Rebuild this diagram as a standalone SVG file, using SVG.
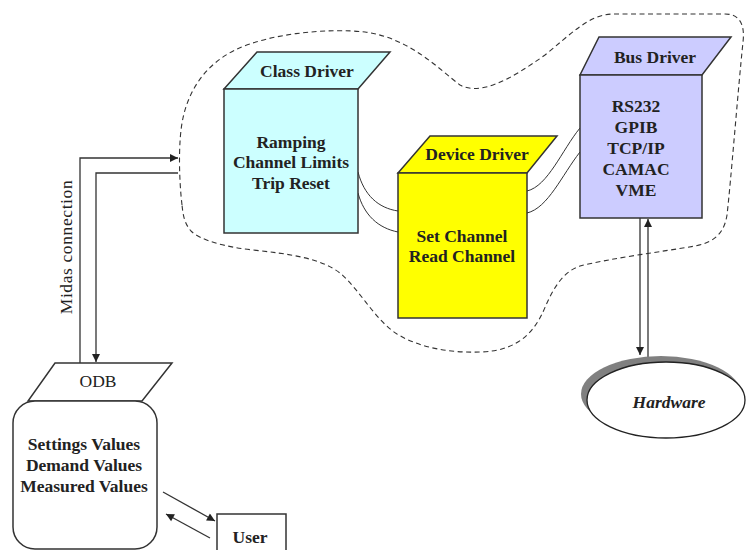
<svg xmlns="http://www.w3.org/2000/svg" width="746" height="550" viewBox="0 0 746 550">
  <defs>
    <marker id="arr" viewBox="0 0 10 10" refX="10" refY="5" markerWidth="9" markerHeight="8" markerUnits="userSpaceOnUse" orient="auto">
      <path d="M0,0 L10,5 L0,10 Z" fill="#222"/>
    </marker>
    <style>
      .edge { fill: none; stroke: #333; stroke-width: 1.3; }
      .link { fill: none; stroke: #333; stroke-width: 1; }
      .face { stroke: #333; stroke-width: 1.5; }
      .t { font-family: "Liberation Serif", "Times New Roman", serif; font-size: 17.5px; font-weight: bold; fill: #222; text-anchor: middle; }
      .r { font-weight: normal; }
    </style>
  </defs>
  <rect width="746" height="550" fill="#fff"/>

  <!-- dashed boundary around the driver layers -->
  <path d="M182,205 C179,180 178,140 183,118 C189,90 205,65 235,50 C270,33 330,28 365,32 C410,38 440,70 460,85 C480,96 510,80 545,55 C570,35 588,15 612,14 L725,14 C740,14 745,25 743,42 C738,90 731,180 727,215 C724,235 712,243 695,246 C660,252 612,258 580,266 C562,272 553,290 546,305 C536,330 520,351 480,352 C450,353 420,348 397,334 C375,320 360,290 340,273 C320,258 290,254 253,250 C225,247 200,240 191,231 C184,223 183,214 182,205 Z" fill="none" stroke="#333" stroke-width="1.1" stroke-dasharray="5,3.5"/>

  <g id="connectors">
    <!-- Midas connection between ODB and driver layers -->
    <polyline class="edge" points="80,363 80,158 178,158" marker-end="url(#arr)"/>
    <polyline class="edge" points="178,173 96,173 96,362" marker-end="url(#arr)"/>
    <!-- class driver to device driver -->
    <path class="link" d="M358,172 C364,195 378,208 398,211"/>
    <path class="link" d="M358,193 C364,215 378,228 398,232"/>
    <!-- device driver to bus driver -->
    <path class="link" d="M527,191 C548,186 562,150 580,128"/>
    <path class="link" d="M527,213 C548,208 562,175 580,152"/>
    <!-- bus driver to hardware -->
    <line class="edge" x1="640" y1="218" x2="640" y2="355" marker-end="url(#arr)"/>
    <line class="edge" x1="648" y1="357" x2="648" y2="219" marker-end="url(#arr)"/>
    <!-- ODB to user -->
    <line class="edge" x1="163" y1="492" x2="215" y2="521" marker-end="url(#arr)"/>
    <line class="edge" x1="210" y1="538" x2="166" y2="514" marker-end="url(#arr)"/>
  </g>

  <text class="t r" transform="translate(72,247) rotate(-90)" font-size="20" letter-spacing="0.6">Midas connection</text>

  <g id="class-driver">
    <polygon class="face" points="257,52 390,52 358,89 224,89" fill="#ccffff"/>
    <rect class="face" x="224" y="89" width="134" height="144" fill="#ccffff"/>
    <text class="t" x="307" y="77">Class Driver</text>
    <text class="t" x="291" y="148">Ramping</text>
    <text class="t" x="291" y="168">Channel Limits</text>
    <text class="t" x="291" y="189">Trip Reset</text>
  </g>

  <g id="device-driver">
    <polygon class="face" points="430,136 557,136 527,173 398,173" fill="#ffff00"/>
    <rect class="face" x="398" y="173" width="129" height="145" fill="#ffff00"/>
    <text class="t" x="477" y="160">Device Driver</text>
    <text class="t" x="462" y="242">Set Channel</text>
    <text class="t" x="462" y="262">Read Channel</text>
  </g>

  <g id="bus-driver">
    <polygon class="face" points="599,37 731,37 702,75 580,75" fill="#ccccff"/>
    <rect class="face" x="580" y="75" width="122" height="143" fill="#ccccff"/>
    <text class="t" x="655" y="63">Bus Driver</text>
    <text class="t" x="636" y="112">RS232</text>
    <text class="t" x="636" y="133">GPIB</text>
    <text class="t" x="636" y="154">TCP/IP</text>
    <text class="t" x="636" y="175">CAMAC</text>
    <text class="t" x="636" y="196">VME</text>
  </g>

  <g id="hardware">
    <ellipse cx="661" cy="394" rx="80" ry="38" fill="#808080"/>
    <ellipse cx="666" cy="400" rx="79" ry="38" fill="#fff" stroke="#222" stroke-width="1.3"/>
    <text class="t" x="669" y="408" font-size="19.5" font-style="italic">Hardware</text>
  </g>

  <g id="odb">
    <polygon class="face" points="55,363 172,363 142,401 28,401" fill="#fff"/>
    <rect class="face" x="13" y="401" width="144" height="148" rx="22" fill="#fff"/>
    <text class="t r" x="98" y="387">ODB</text>
    <text class="t" x="84" y="450">Settings Values</text>
    <text class="t" x="84" y="471">Demand Values</text>
    <text class="t" x="84" y="492">Measured Values</text>
  </g>

  <g id="user">
    <rect class="face" x="217" y="514" width="69" height="42" fill="#fff"/>
    <text class="t" x="250" y="543" font-size="22">User</text>
  </g>
</svg>
